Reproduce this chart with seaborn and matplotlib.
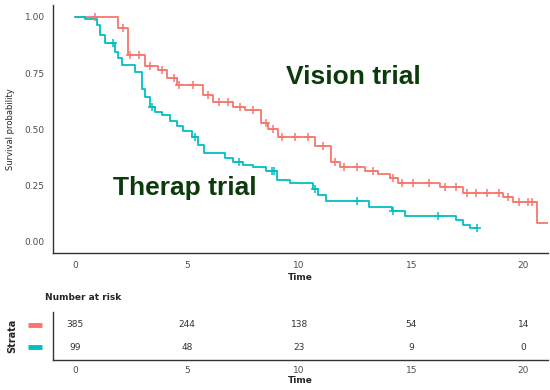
import numpy as np
import pandas as pd
import matplotlib
matplotlib.use('Agg')
import matplotlib.pyplot as plt
import seaborn as sns

sns.set_style('white')
plt.rcParams['font.family'] = ['DejaVu Sans']

# Kaplan-Meier step data
vision_time = [0, 1.92, 2.37, 3.13, 3.7, 4.1, 4.55, 5.7, 6.17, 7.05, 7.6, 8.3, 8.6, 9.05,
               10.7, 11.4, 11.8, 12.95, 13.5, 14.06, 14.4, 16.3, 17.3, 19.1, 19.55, 20.6, 21.1]
vision_surv = [1.0, 0.951, 0.831, 0.782, 0.764, 0.73, 0.698, 0.653, 0.62, 0.60, 0.585, 0.53, 0.50, 0.467,
               0.428, 0.356, 0.333, 0.316, 0.302, 0.284, 0.262, 0.245, 0.218, 0.2, 0.178, 0.083, 0.083]
vision_cens = [0.9, 2.14, 2.46, 2.86, 3.35, 3.9, 4.4, 4.65, 5.27, 5.93, 6.43, 6.83, 7.37, 7.95,
               8.5, 8.85, 9.25, 9.8, 10.4, 11.07, 11.6, 12.0, 12.6, 13.3, 14.2, 14.6, 15.1, 15.8,
               16.5, 17.0, 17.5, 17.9, 18.4, 18.9, 19.3, 19.8, 20.2, 20.4]

therap_time = [0, 0.45, 0.98, 1.1, 1.33, 1.8, 1.9, 2.1, 2.68, 3.0, 3.13, 3.35, 3.57, 3.9, 4.24,
               4.55, 4.84, 5.2, 5.5, 5.75, 6.7, 7.05, 7.5, 7.95, 8.5, 9.02, 9.6, 10.6, 10.85,
               11.2, 13.1, 14.15, 14.7, 17.0, 17.3, 17.6, 17.95]
therap_surv = [1.0, 0.99, 0.964, 0.92, 0.884, 0.845, 0.818, 0.787, 0.756, 0.68, 0.644, 0.60, 0.578, 0.565, 0.538,
               0.516, 0.493, 0.467, 0.431, 0.397, 0.373, 0.356, 0.342, 0.333, 0.316, 0.276, 0.262, 0.236, 0.209,
               0.184, 0.155, 0.138, 0.116, 0.098, 0.076, 0.062, 0.062]
therap_cens = [1.7, 3.44, 5.36, 7.3, 8.8, 8.9, 10.7, 12.6, 14.2, 16.2, 17.95]

risk_times = [0, 5, 10, 15, 20]
risk_vision = [385, 244, 138, 54, 14]
risk_therap = [99, 48, 23, 9, 0]

red = '#F8766D'
blue = '#00BFC4'
axis_col = '#333333'
tick_col = '#4D4D4D'


def censor_frame(times, surv, cens):
    times = np.array(times)
    idx = np.searchsorted(times, cens, side='right') - 1
    return pd.DataFrame({'t': cens, 's': np.array(surv)[idx]})


fig = plt.figure(figsize=(5.5, 3.9), dpi=100)
ax = fig.add_axes([53 / 550, 1 - 253 / 390, 495 / 550, 248 / 390])

curves = [(vision_time, vision_surv, vision_cens, red),
          (therap_time, therap_surv, therap_cens, blue)]
for tt, ss, cc, col in curves:
    d = pd.DataFrame({'t': tt, 's': ss})
    sns.lineplot(data=d, x='t', y='s', ax=ax, color=col, lw=1.3,
                 drawstyle='steps-post', estimator=None, sort=False)
    cdf = censor_frame(tt, ss, cc)
    sns.scatterplot(data=cdf, x='t', y='s', ax=ax, color=col, marker='+',
                    s=35, linewidth=1.1, zorder=3)

ax.set_xlim(-0.98, 21.1)
ax.set_ylim(-0.049, 1.053)
ax.set_xticks([0, 5, 10, 15, 20])
ax.set_yticks([0, 0.25, 0.5, 0.75, 1.0])
ax.set_yticklabels(['0.00', '0.25', '0.50', '0.75', '1.00'])
ax.set_xlabel('Time', fontsize=6.5, fontweight='bold', labelpad=2)
ax.set_ylabel('Survival probability', fontsize=6, labelpad=7)
ax.tick_params(axis='both', labelsize=6.5, colors=tick_col, length=3, width=0.8, pad=3)
ax.tick_params(axis='both', colors=axis_col, labelcolor=tick_col)
for side in ['top', 'right']:
    ax.spines[side].set_visible(False)
for side in ['left', 'bottom']:
    ax.spines[side].set_color(axis_col)
    ax.spines[side].set_linewidth(1.0)

ax.text(12.4, 0.735, 'Vision trial', fontsize=19, fontweight='bold', color='#0B3A0B',
        family=['Liberation Sans'], ha='center', va='center')
ax.text(4.9, 0.24, 'Therap trial', fontsize=19, fontweight='bold', color='#0B3A0B',
        family=['Liberation Sans'], ha='center', va='center')

# risk table
rt = fig.add_axes([53 / 550, 1 - 360 / 390, 495 / 550, 48 / 390])
rt.set_xlim(ax.get_xlim())
rt.set_ylim(0.41, 2.59)
for row, vals in [(2, risk_vision), (1, risk_therap)]:
    for t, v in zip(risk_times, vals):
        rt.text(t, row, str(v), ha='center', va='center', fontsize=6.5, color='#333333')
rt.set_xticks(risk_times)
rt.set_yticks([])
rt.set_xlabel('Time', fontsize=6.5, fontweight='bold', labelpad=1)
rt.tick_params(axis='x', labelsize=6.5, colors=axis_col, labelcolor=tick_col, length=0, pad=4)
for side in ['top', 'right']:
    rt.spines[side].set_visible(False)
for side in ['left', 'bottom']:
    rt.spines[side].set_color(axis_col)
    rt.spines[side].set_linewidth(1.0)
trans = matplotlib.transforms.blended_transform_factory(rt.transAxes, rt.transData)
for row, col in [(2, red), (1, blue)]:
    rt.plot([-0.05, -0.022], [row, row], transform=trans, color=col, lw=3.5,
            clip_on=False, solid_capstyle='butt')
fig.text(45 / 550, 1 - 298 / 390, 'Number at risk', fontsize=6.5, fontweight='bold',
         ha='left', va='center')
fig.text(12 / 550, 1 - 336 / 390, 'Strata', fontsize=7, fontweight='bold',
         rotation=90, ha='center', va='center')

fig.savefig('out.png', dpi=100)
